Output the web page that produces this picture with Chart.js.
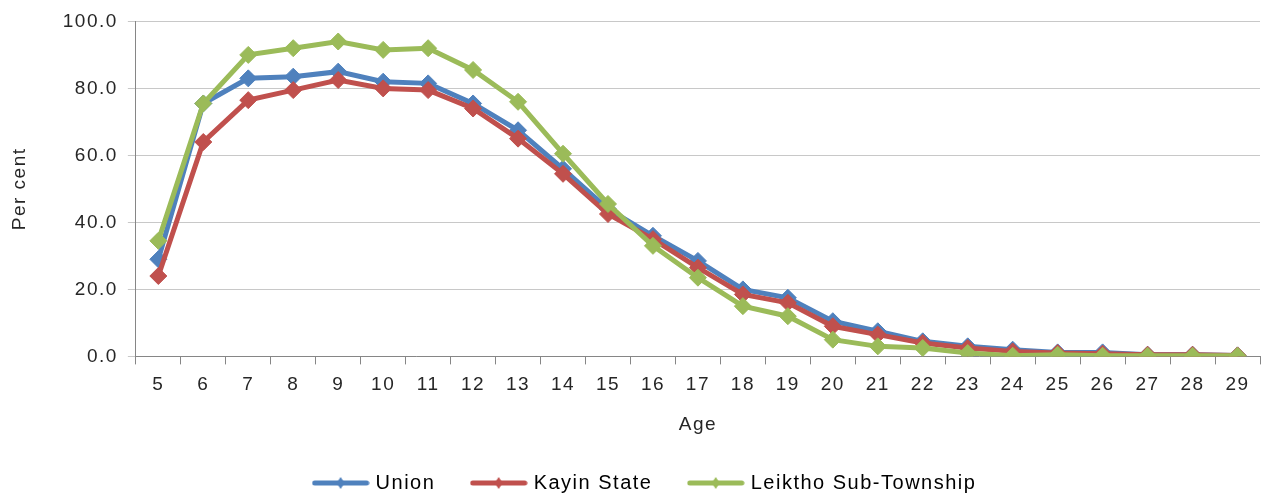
<!DOCTYPE html>
<html>
<head>
<meta charset="utf-8">
<script src="https://cdn.jsdelivr.net/npm/chart.js@4"></script>
<style>
  html, body { margin: 0; padding: 0; background: #fff; overflow: hidden; }
  #wrap { width: 1262px; height: 493px; }
</style>
</head>
<body>
<div id="wrap"><canvas id="chart"></canvas></div>
<script>
// ages on the x axis
const ages = [5,6,7,8,9,10,11,12,13,14,15,16,17,18,19,20,21,22,23,24,25,26,27,28,29];

const union = [29.0,75.5,83.0,83.5,85.0,82.0,81.5,75.5,67.5,56.0,44.0,36.0,28.5,20.0,17.5,10.5,7.5,4.5,3.0,2.0,1.2,1.2,0.5,0.5,0.3];
const kayin = [24.0,64.0,76.5,79.5,82.5,80.0,79.5,74.0,65.0,54.5,42.5,35.0,26.5,18.5,16.0,9.0,6.5,4.0,2.5,1.5,1.0,0.8,0.5,0.5,0.3];
const leiktho = [34.5,75.5,90.0,92.0,94.0,91.5,92.0,85.5,76.0,60.5,45.5,33.0,23.5,15.0,12.0,5.0,3.0,2.5,1.0,0.2,0.5,0.2,0.2,0.2,0.2];

const seriesNames = ['Union', 'Kayin State', 'Leiktho Sub-Township'];
const colors = ['#4F81BD', '#C0504D', '#9BBB59'];

// legend sample: short line with a diamond in the middle, like excel
function legendIcon(color) {
  const c = document.createElement('canvas');
  c.width = 58; c.height = 14;
  const g = c.getContext('2d');
  g.strokeStyle = color;
  g.lineWidth = 5;
  g.lineCap = 'round';
  g.beginPath(); g.moveTo(3, 7); g.lineTo(55, 7); g.stroke();
  g.fillStyle = color;
  g.beginPath(); g.moveTo(29, 1); g.lineTo(33, 7); g.lineTo(29, 13); g.lineTo(25, 7); g.closePath(); g.fill();
  return c;
}

// the source picture has wide, stretched text; legend sits a bit right of centre
const tweaks = {
  id: 'tweaks',
  beforeUpdate(chart) { chart.ctx.letterSpacing = '1.5px'; },
  afterLayout(chart) {
    if (chart.legend) { chart.legend.left += 16; chart.legend.right += 16; }
  },
  beforeDraw(chart) { chart.ctx.letterSpacing = '1.5px'; }
};

// later series drawn on top, as in excel
const datasets = [union, kayin, leiktho].map((d, i) => ({
  label: seriesNames[i],
  data: d,
  order: 3 - i,
  borderColor: colors[i],
  backgroundColor: colors[i],
  borderWidth: 5,
  pointStyle: 'rectRot',
  pointRadius: 8.5,
  pointHoverRadius: 8.5,
  pointBorderWidth: 1,
  tension: 0
}));

Chart.defaults.font.family = '"Liberation Sans", Arial, sans-serif';
Chart.defaults.color = '#262626';

new Chart(document.getElementById('chart'), {
  type: 'line',
  data: { labels: ages, datasets: datasets },
  plugins: [tweaks],
  options: {
    responsive: true,
    maintainAspectRatio: false,
    animation: false,
    layout: { autoPadding: false, padding: { left: 0, right: 2, top: 12, bottom: -10 } },
    plugins: {
      tooltip: { enabled: false },
      legend: {
        position: 'bottom',
        labels: {
          font: { size: 20 },
          usePointStyle: true,
          pointStyleWidth: 50,
          boxHeight: 14,
          padding: 3,
          generateLabels: (chart) => chart.data.datasets.map((ds, i) => ({
            text: ds.label + (i < 2 ? '     ' : ''),
            fillStyle: ds.borderColor,
            strokeStyle: ds.borderColor,
            pointStyle: legendIcon(ds.borderColor),
            lineWidth: 0,
            datasetIndex: i,
            hidden: false
          }))
        }
      }
    },
    scales: {
      x: {
        offset: true,
        grid: { offset: true, drawOnChartArea: false, drawTicks: true, tickLength: 8, color: '#868686' },
        border: { color: '#868686', width: 1 },
        ticks: { font: { size: 19 }, padding: 9 },
        title: { display: true, text: 'Age', font: { size: 19 }, padding: { top: 8, bottom: 34 } }
      },
      y: {
        min: 0, max: 100,
        ticks: { stepSize: 20, font: { size: 19 }, padding: 10, callback: v => v.toFixed(1) },
        grid: { color: '#c8c8c8', tickLength: 8 },
        border: { color: '#868686', width: 1 },
        title: { display: true, text: 'Per cent', font: { size: 19 }, padding: { top: 8, bottom: 22 } }
      }
    }
  }
});
</script>
</body>
</html>
